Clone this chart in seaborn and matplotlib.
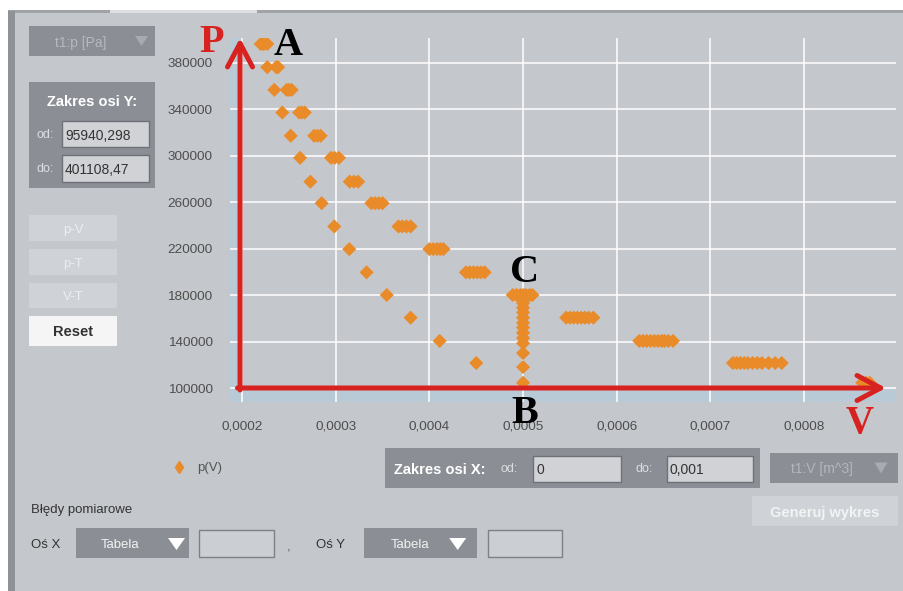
import matplotlib
matplotlib.use("Agg")
import numpy as np
import pandas as pd
import matplotlib.pyplot as plt
import seaborn as sns
from matplotlib.patches import Rectangle, Polygon, FancyArrowPatch, ArrowStyle
from matplotlib.lines import Line2D
from matplotlib.ticker import FixedLocator, MultipleLocator, FuncFormatter

# ---------------- data ----------------
# pressure levels of the measurement rows [Pa]
p_levels = [396000, 376000, 356500, 337000, 317000, 298000, 277500, 259000,
            239000, 219500, 199500, 180000, 160500, 140500, 121500, 104500]

# process A -> B : one volume per pressure level [m^3]
v_AB = [0.0002227, 0.000227, 0.0002345, 0.000243, 0.000252, 0.000262, 0.000273,
        0.000285, 0.0002985, 0.0003145, 0.000333, 0.0003545, 0.00038, 0.000411,
        0.00045, 0.0005]

# process A -> C -> ... : several volume readings per pressure level [m^3]
v_AC = [
    [0.00022, 0.0002235, 0.000227],
    [0.0002365, 0.0002385],
    [0.0002477, 0.00025, 0.000253],
    [0.000261, 0.000264, 0.000267],
    [0.000277, 0.0002805, 0.000284],
    [0.000295, 0.000299, 0.0003035],
    [0.000315, 0.0003195, 0.000324],
    [0.000338, 0.000342, 0.000346, 0.00035],
    [0.000367, 0.000371, 0.0003755, 0.00038],
    [0.0004, 0.000404, 0.000408, 0.0004115, 0.000415],
    [0.000439, 0.000443, 0.000447, 0.000451, 0.000455, 0.000459],
    [0.000489, 0.000493, 0.000497, 0.0005, 0.000503, 0.000507, 0.00051],
    [0.000546, 0.00055, 0.000554, 0.000558, 0.000562, 0.000566, 0.00057, 0.000575],
    [0.000624, 0.000628, 0.000632, 0.000636, 0.00064, 0.000644, 0.000648, 0.000651,
     0.000655, 0.00066],
    [0.000724, 0.000728, 0.000732, 0.000736, 0.00074, 0.000745, 0.00075, 0.000755,
     0.000762, 0.000769, 0.000776],
    [0.000862, 0.000866, 0.00087],
]

# process C -> B : constant volume
v_CB = 0.0005
p_CB = [176000, 173000, 169000, 165000, 160500, 156000, 152000, 147500, 143000,
        138500, 130000, 118000]

x_ticks = [0.0002, 0.0003, 0.0004, 0.0005, 0.0006, 0.0007, 0.0008]
y_ticks = [100000, 140000, 180000, 220000, 260000, 300000, 340000, 380000]
x_range = (0.0001872, 0.000898)
y_range = (87960, 401108)
origin_v = 0.0001979     # where the drawn red axes cross
origin_p = 100000
arrow_v_end = 0.0008873

# ---------------- build table ----------------
V, P = [], []
V += v_AB; P += p_levels
for p, vs in zip(p_levels, v_AC):
    V += vs; P += [p] * len(vs)
V += [v_CB] * len(p_CB); P += p_CB
df = pd.DataFrame({"V": V, "p": P})

# ---------------- style ----------------
BG = "#c4c7cc"
DARK = "#8b8f95"
LIGHTBTN = "#cfd2d6"
ORANGE = "#ea8b2a"
RED = "#d82220"
STRIP = "#b8cad6"

sns.set_style("white")
plt.rcParams['font.family'] = ['Liberation Sans', 'DejaVu Sans']

W, H = 904, 591
fig = plt.figure(figsize=(W / 100, H / 100), dpi=100, facecolor=BG)


def fx(x):
    return x / W


def fy(y):
    return 1 - y / H


def rect(x0, y0, x1, y1, fc, ec="none", lw=0, z=1):
    fig.add_artist(Rectangle((fx(x0), fy(y1)), (x1 - x0) / W, (y1 - y0) / H,
                             transform=fig.transFigure, facecolor=fc,
                             edgecolor=ec, linewidth=lw, zorder=z))


def txt(x, y, s, dy=1.5, **kw):
    kw.setdefault("va", "center")
    if kw["va"] != "center":
        dy = 0
    fig.text(fx(x), fy(y + dy), s, **kw)


def tri(cx, cy, w, h, color):
    pts = [(fx(cx - w / 2), fy(cy - h / 2)), (fx(cx + w / 2), fy(cy - h / 2)),
           (fx(cx), fy(cy + h / 2))]
    fig.add_artist(Polygon(pts, closed=True, transform=fig.transFigure,
                           facecolor=color, edgecolor="none", zorder=2))


# ---------------- chart ----------------
ax = fig.add_axes([fx(230), fy(402), (896 - 230) / W, (402 - 38) / H])
ax.set_facecolor(BG)
sns.scatterplot(data=df, x="V", y="p", marker="D", s=52, color=ORANGE,
                edgecolor="none", linewidth=0, ax=ax, legend=False, zorder=3)
ax.set_xlim(*x_range)
ax.set_ylim(*y_range)
ax.set_xlabel("")
ax.set_ylabel("")
for s in ax.spines.values():
    s.set_visible(False)

# axis strips (light blue)
ax.add_patch(Rectangle((0, 0), 10 / 666, 1, transform=ax.transAxes,
                       facecolor=STRIP, edgecolor="none", zorder=0.2))
ax.add_patch(Rectangle((0, 0), 1, 12 / 364, transform=ax.transAxes,
                       facecolor=STRIP, edgecolor="none", zorder=0.2))

ax.xaxis.set_major_locator(FixedLocator(x_ticks))
ax.xaxis.set_minor_locator(MultipleLocator(0.00005))
ax.yaxis.set_major_locator(FixedLocator(y_ticks))
ax.yaxis.set_minor_locator(MultipleLocator(20000))
ax.xaxis.set_major_formatter(FuncFormatter(lambda v, _: f"{v:.4f}".replace(".", ",")))
ax.yaxis.set_major_formatter(FuncFormatter(lambda v, _: f"{v:.0f}"))
ax.tick_params(axis="both", which="both", direction="in", color="white", width=1.0,
               labelcolor="#4e4e4e", labelsize=9.7)
ax.tick_params(axis="x", which="major", length=8.5, pad=13.5)
ax.tick_params(axis="x", which="minor", length=3.6)
ax.tick_params(axis="y", which="both", length=5, pad=12.5)
ax.grid(True, which="major", color="white", linewidth=1.1)
ax.set_axisbelow(True)

# red drawn axes
style = ArrowStyle("->", head_length=17, head_width=9)
ax.add_patch(FancyArrowPatch((origin_v, 98300), (origin_v, y_range[1]),
                             arrowstyle=style, mutation_scale=1, lw=3.6, color=RED,
                             shrinkA=0, shrinkB=0, zorder=6, clip_on=False))
ax.add_patch(FancyArrowPatch((0.0001952, origin_p), (arrow_v_end, origin_p),
                             arrowstyle=style, mutation_scale=1, lw=3.6, color=RED,
                             shrinkA=0, shrinkB=0, zorder=6, clip_on=False))

# point letters
serif = dict(family=["Liberation Serif", "DejaVu Serif"], fontweight="bold",
             fontsize=29, ha="center", va="baseline", zorder=10)
txt(211.5, 52, "P", color=RED, **serif)
txt(288, 55, "A", color="black", **serif)
txt(525, 282, "C", color="black", **serif)
txt(524.5, 423, "B", color="black", **serif)
txt(860, 433, "V", color=RED, **{**serif, "fontsize": 28})

# ---------------- UI frame ----------------
rect(0, 0, W, 10.5, "white", z=0.5)
rect(0, 0, 8, H, "white", z=0.5)
rect(8, 10.5, W, 13, "#9fa2a7", z=0.6)
rect(110, 10.5, 257, 13, "#dcdee1", z=0.7)
rect(8, 10.5, 15, H, "#8e9297", z=0.7)

# Y selector
rect(29, 26, 155, 56, DARK)
txt(81, 41, "t1:p [Pa]", color="#b6b9be", fontsize=10, ha="center")
tri(141.5, 41, 13, 10, "#a7aaaf")

# Y range panel
rect(29, 82, 155, 188, DARK)
txt(92, 100, "Zakres osi Y:", color="white", fontsize=10.5, fontweight="bold", ha="center")
txt(45, 133.5, "od:", color="#dcdee1", fontsize=9, ha="center")
rect(62, 121, 149, 147, "#d0d2d6", ec="#6e7277", lw=1, z=1.5)
txt(65, 134, "95940,298", color="#333333", fontsize=10, ha="left", zorder=3)
txt(45, 167.5, "do:", color="#dcdee1", fontsize=9, ha="center")
rect(62, 155, 149, 182, "#d0d2d6", ec="#6e7277", lw=1, z=1.5)
txt(65, 168, "401108,47", color="#333333", fontsize=10, ha="left", zorder=3)

# buttons
for (y0, y1, lab) in [(215, 241, "p-V"), (249, 275, "p-T"), (283, 308, "V-T")]:
    rect(29, y0, 117, y1, LIGHTBTN)
    txt(73, (y0 + y1) / 2, lab, color="#eceef0", fontsize=9.5, ha="center", zorder=3)
rect(29, 316, 117, 346, "#f5f5f5")
txt(73, 331, "Reset", color="#333333", fontsize=10.5, fontweight="bold", ha="center", zorder=3)

# legend
fig.add_artist(Line2D([fx(179)], [fy(466.5)], marker="d", ms=6.5, color=ORANGE,
                      ls="none", transform=fig.transFigure))
txt(197, 466.5, "p(V)", color="#555555", fontsize=9.5, ha="left")

# X range panel
rect(385.5, 448, 760.5, 488, DARK)
txt(394, 468, "Zakres osi X:", color="white", fontsize=10.5, fontweight="bold", ha="left", zorder=3)
txt(509, 468, "od:", color="#dcdee1", fontsize=9, ha="center", zorder=3)
rect(533.5, 455.5, 621, 481.5, "#d0d2d6", ec="#6e7277", lw=1, z=1.5)
txt(537, 468.5, "0", color="#333333", fontsize=10, ha="left", zorder=3)
txt(644, 468, "do:", color="#dcdee1", fontsize=9, ha="center", zorder=3)
rect(667, 455.5, 753, 481.5, "#d0d2d6", ec="#6e7277", lw=1, z=1.5)
txt(669.5, 468.5, "0,001", color="#333333", fontsize=10, ha="left", zorder=3)

# X selector
rect(770, 453, 898, 483, DARK)
txt(822, 468, "t1:V [m^3]", color="#b3b6bb", fontsize=10, ha="center", zorder=3)
tri(881, 468, 13, 11, "#a8abb0")

# generate button
rect(752, 496, 898, 526, LIGHTBTN)
txt(825, 511, "Generuj wykres", color="#f2f3f4", fontsize=10.5, fontweight="bold",
    ha="center", zorder=3)

# measurement errors
txt(31.5, 509, "Błędy pomiarowe", color="#333333", fontsize=9.5, ha="left")
txt(31.5, 543.5, "Oś X", color="#333333", fontsize=9.5, ha="left")
rect(76, 528, 189, 558, DARK)
txt(120, 543, "Tabela", color="#f2f2f2", fontsize=9.5, ha="center", zorder=3)
tri(176.5, 544, 17, 12, "white")
rect(199.5, 530, 274, 557, "#cbced2", ec="#7d8186", lw=1)
txt(289, 546, ",", color="#555555", fontsize=9.5, ha="center")
txt(316, 543.5, "Oś Y", color="#333333", fontsize=9.5, ha="left")
rect(364, 528, 477, 558, DARK)
txt(409.6, 543, "Tabela", color="#f2f2f2", fontsize=9.5, ha="center", zorder=3)
tri(457.7, 544, 17, 12, "white")
rect(487.5, 530, 562, 557, "#cbced2", ec="#7d8186", lw=1)

fig.savefig("out.png", dpi=100, facecolor=BG)
